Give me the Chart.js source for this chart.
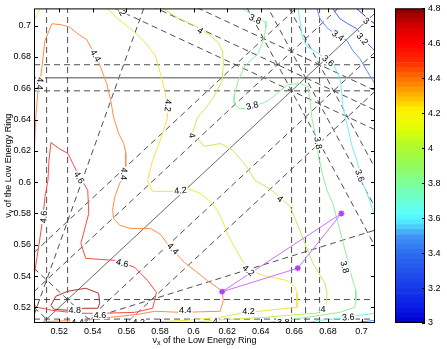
<!DOCTYPE html>
<html>
<head>
<meta charset="utf-8">
<script src="https://cdn.jsdelivr.net/npm/chart.js@4.4.0/dist/chart.umd.min.js"></script>
<style>
  html, body { margin: 0; padding: 0; background: #fff; }
  #wrap { position: relative; width: 447px; height: 349px; }
  #main { position: absolute; left: 0; top: 0; }
  #bar { position: absolute; left: 380px; top: 0; }
</style>
</head>
<body>
<div id="wrap">
  <canvas id="main" width="447" height="349"></canvas>
  <canvas id="bar" width="67" height="349"></canvas>
</div>
<script>
// axes
const xRange = [0.505, 0.708];
const yRange = [0.51, 0.711];
const xTicks = [0.52, 0.54, 0.56, 0.58, 0.60, 0.62, 0.64, 0.66, 0.68, 0.70];
const xTickLabels = ['0.52', '0.54', '0.56', '0.58', '0.6', '0.62', '0.64', '0.66', '0.68', '0.7'];
const yTicks = [0.52, 0.54, 0.56, 0.58, 0.60, 0.62, 0.64, 0.66, 0.68, 0.70];
const yTickLabels = ['0.52', '0.54', '0.56', '0.58', '0.6', '0.62', '0.64', '0.66', '0.68', '0.7'];
const cbarRange = [3, 4.8];
const cbarTicks = [3, 3.2, 3.4, 3.6, 3.8, 4, 4.2, 4.4, 4.6, 4.8];
const cbarTickLabels = ['3', '3.2', '3.4', '3.6', '3.8', '4', '4.2', '4.4', '4.6', '4.8'];

// contour lines, [nu_x, nu_y]
const c48 = [[0.5151,0.5213],[0.5180,0.5271],[0.5252,0.5303],[0.5358,0.5322],[0.5435,0.5290],[0.5441,0.5226],[0.5430,0.5194],[0.5347,0.5194],[0.5252,0.5181],[0.5169,0.5188],[0.5151,0.5213]];
const c46 = [[0.5053,0.5417],[0.5068,0.5519],[0.5086,0.5647],[0.5103,0.5775],[0.5115,0.5902],[0.5133,0.6011],[0.5139,0.6138],[0.5151,0.6253],[0.5198,0.6215],[0.5252,0.6183],[0.5281,0.6119],[0.5311,0.6055],[0.5370,0.5947],[0.5376,0.5800],[0.5329,0.5609],[0.5358,0.5513],[0.5530,0.5500],[0.5649,0.5456],[0.5726,0.5372],[0.5779,0.5296],[0.5768,0.5245],[0.5756,0.5194],[0.5649,0.5168],[0.5447,0.5162],[0.5311,0.5162],[0.5157,0.5181],[0.5074,0.5200],[0.5053,0.5213]];
const c44 = [[0.5053,0.6221],[0.5062,0.6438],[0.5074,0.6585],[0.5086,0.6649],[0.5097,0.6732],[0.5115,0.6904],[0.5157,0.7012],[0.5210,0.7006],[0.5258,0.6993],[0.5311,0.6948],[0.5364,0.6910],[0.5400,0.6840],[0.5430,0.6783],[0.5447,0.6732],[0.5483,0.6630],[0.5507,0.6521],[0.5524,0.6413],[0.5554,0.6311],[0.5584,0.6247],[0.5596,0.6189],[0.5596,0.6094],[0.5584,0.6036],[0.5560,0.5992],[0.5530,0.5902],[0.5518,0.5819],[0.5524,0.5768],[0.5560,0.5724],[0.5625,0.5704],[0.5744,0.5704],[0.5803,0.5666],[0.5851,0.5596],[0.5946,0.5487],[0.6082,0.5372],[0.6171,0.5303],[0.6177,0.5245],[0.6165,0.5200],[0.6159,0.5175],[0.5928,0.5168],[0.5768,0.5175],[0.5673,0.5156],[0.5507,0.5137],[0.5329,0.5117],[0.5151,0.5111],[0.5080,0.5100]];
const c42a = [[0.5489,0.7108],[0.5548,0.7044],[0.5625,0.6980],[0.5702,0.6904],[0.5773,0.6808],[0.5803,0.6693],[0.5833,0.6566],[0.5845,0.6476],[0.5845,0.6413],[0.5815,0.6311],[0.5785,0.6221],[0.5756,0.6138],[0.5726,0.6011],[0.5756,0.5941],[0.5886,0.5941],[0.5963,0.5960],[0.6040,0.5928],[0.6106,0.5870],[0.6141,0.5819],[0.6171,0.5755],[0.6206,0.5660],[0.6248,0.5577],[0.6289,0.5500],[0.6337,0.5436],[0.6414,0.5404],[0.6556,0.5372],[0.6604,0.5328],[0.6616,0.5290],[0.6616,0.5200],[0.6556,0.5194],[0.6277,0.5162],[0.6159,0.5137],[0.6082,0.5130],[0.5957,0.5117],[0.5744,0.5105],[0.5607,0.5100]];
const c42b = [[0.5056,0.7044],[0.5086,0.7108]];
const c40 = [[0.5821,0.7108],[0.5904,0.7051],[0.5981,0.7012],[0.6040,0.6980],[0.6100,0.6936],[0.6147,0.6891],[0.6171,0.6840],[0.6177,0.6776],[0.6171,0.6649],[0.6117,0.6540],[0.6070,0.6470],[0.6023,0.6413],[0.5993,0.6311],[0.6064,0.6228],[0.6159,0.6247],[0.6236,0.6202],[0.6319,0.6094],[0.6366,0.6011],[0.6467,0.5947],[0.6574,0.5845],[0.6616,0.5736],[0.6663,0.5609],[0.6711,0.5481],[0.6782,0.5353],[0.6794,0.5290],[0.6788,0.5200],[0.6735,0.5162],[0.6633,0.5156],[0.6437,0.5137],[0.6218,0.5124],[0.6123,0.5117],[0.6005,0.5105],[0.5951,0.5100]];
const c38 = [[0.6295,0.7108],[0.6366,0.7057],[0.6426,0.7025],[0.6431,0.6987],[0.6414,0.6904],[0.6384,0.6821],[0.6307,0.6744],[0.6266,0.6649],[0.6242,0.6553],[0.6242,0.6502],[0.6272,0.6470],[0.6319,0.6470],[0.6437,0.6515],[0.6562,0.6623],[0.6633,0.6630],[0.6681,0.6610],[0.6693,0.6521],[0.6705,0.6406],[0.6723,0.6311],[0.6746,0.6151],[0.6770,0.6042],[0.6794,0.5947],[0.6829,0.5864],[0.6871,0.5692],[0.6913,0.5519],[0.6942,0.5392],[0.6966,0.5309],[0.6966,0.5245],[0.6960,0.5200],[0.6871,0.5168],[0.6752,0.5149],[0.6556,0.5117],[0.6402,0.5100]];
const c36a = [[0.6622,0.7108],[0.6633,0.7031],[0.6645,0.6936],[0.6675,0.6866],[0.6735,0.6827],[0.6829,0.6757],[0.6871,0.6668],[0.6883,0.6566],[0.6889,0.6476],[0.6918,0.6349],[0.6942,0.6234],[0.6972,0.6138],[0.7001,0.6011],[0.7031,0.5934],[0.7078,0.5787]];
const c36b = [[0.6663,0.5100],[0.6752,0.5117],[0.6853,0.5127],[0.6990,0.5149],[0.7078,0.5162]];
const c34a = [[0.6735,0.7108],[0.6752,0.7044],[0.6794,0.6987],[0.6841,0.6948],[0.6913,0.6904],[0.6948,0.6840],[0.6990,0.6789],[0.7031,0.6712],[0.7061,0.6661],[0.7078,0.6630]];
const c34b = [[0.6948,0.5100],[0.7078,0.5117]];
const c32 = [[0.6829,0.7108],[0.6871,0.7044],[0.6918,0.7012],[0.6972,0.6980],[0.7031,0.6891],[0.7066,0.6853],[0.7078,0.6840]];
const c30 = [[0.6972,0.7108],[0.7031,0.7051],[0.7078,0.7012]];

const contourPieces = [
  [4.8, c48], [4.6, c46], [4.4, c44], [4.2, c42a], [4.2, c42b], [4.0, c40],
  [3.8, c38], [3.6, c36a], [3.6, c36b], [3.4, c34a], [3.4, c34b], [3.2, c32], [3.0, c30]
];

// inline contour labels: text, nu_x, nu_y, angle (deg)
const contourLabels = [
  ['4.4', 0.5086, 0.6630, 95], ['4.4', 0.5418, 0.6808, 60], ['4.2', 0.5848, 0.6489, 95],
  ['4.4', 0.5586, 0.6053, 95], ['4', 0.6040, 0.6968, 33], ['4', 0.5991, 0.6298, 80],
  ['3.8', 0.6366, 0.7042, 25], ['3.8', 0.6349, 0.6489, -15], ['3.4', 0.6860, 0.6936, 35],
  ['3.2', 0.7005, 0.6915, 50], ['3', 0.7029, 0.7031, 40], ['3.6', 0.6801, 0.6776, 40],
  ['3.8', 0.6742, 0.6250, 80], ['3.6', 0.6990, 0.6042, 70], ['4.4', 0.5878, 0.5575, 45],
  ['4.6', 0.5576, 0.5483, 15], ['4.6', 0.5108, 0.5777, -85], ['4.6', 0.5319, 0.6030, 60],
  ['4.2', 0.5922, 0.5947, -5], ['4.8', 0.5293, 0.5186, 0], ['4.6', 0.5443, 0.5154, 0],
  ['4.4', 0.5951, 0.5181, 0], ['4.2', 0.5674, 0.5107, 0], ['4.4', 0.5309, 0.5107, 0],
  ['4', 0.6129, 0.5111, 0], ['4.2', 0.6327, 0.5436, 40], ['4', 0.6515, 0.5894, 40],
  ['4.2', 0.6327, 0.5175, 0], ['4', 0.6771, 0.5192, 0], ['3.8', 0.6900, 0.5458, 75],
  ['3.6', 0.6920, 0.5138, -5], ['3.8', 0.6534, 0.5107, 0], ['4.2', 0.5566, 0.7102, 60]
];

// resonance lines m*nux + n*nuy = p + k*nus
const nuS = 0.025;
const resM = [2, 2, 0, 0, 1, 1, 1, 1, 1, 1, 1, 3, 3, 3, 0, 0, 0, 2, 2, 2, 1, 1, 1, 3, 1];
const resN = [0, 0, 2, 2, 1, 1, -1, -1, -1, -1, -1, 0, 0, 0, 3, 3, 3, 1, 1, 1, 2, 2, 2, -1, -3];
const resP = [1, 1, 1, 1, 1, 1, 0, 0, 0, 0, 0, 2, 2, 2, 2, 2, 2, 2, 2, 2, 2, 2, 2, 1, -1];
const resK = [1, 2, 1, 2, 1, 2, 0, 1, -1, 2, -2, 0, 1, -1, 0, 1, -1, 0, 1, -1, 0, 1, -1, 0, 0];

// working point path
const tuneX = [0.617, 0.688, 0.662, 0.617];
const tuneY = [0.530, 0.580, 0.545, 0.530];

const FONT = '"Liberation Sans", Arial, Helvetica, sans-serif';
Chart.defaults.font.family = FONT;
Chart.defaults.font.size = 9;
Chart.defaults.color = '#000';

const levelColor = {
  '3': '#3030e0', '3.2': '#4a6cff', '3.4': '#6090ff', '3.6': '#70f0f0', '3.8': '#8ef0a0',
  '4': '#c0f050', '4.2': '#f2e640', '4.4': '#ff8c4c', '4.6': '#ff4848', '4.8': '#b03030'
};

const cmapStops = [
  [3.00, 0, 0, 210], [3.10, 10, 30, 230], [3.25, 30, 70, 235], [3.40, 45, 110, 240],
  [3.50, 65, 150, 245], [3.56, 80, 220, 255], [3.62, 90, 255, 255], [3.72, 110, 255, 200],
  [3.82, 130, 255, 140], [3.92, 150, 250, 80], [4.02, 180, 250, 40], [4.12, 230, 255, 0],
  [4.22, 255, 240, 0], [4.30, 255, 180, 0], [4.40, 255, 110, 0], [4.50, 255, 40, 0],
  [4.60, 255, 0, 0], [4.70, 210, 0, 0], [4.80, 130, 0, 0]
];

function cmap(v) {
  for (let i = 1; i < cmapStops.length; i++) {
    const a = cmapStops[i - 1], b = cmapStops[i];
    if (v <= b[0]) {
      const t = (v - a[0]) / (b[0] - a[0]);
      const c = [1, 2, 3].map(j => Math.round(a[j] + t * (b[j] - a[j])));
      return `rgb(${c[0]},${c[1]},${c[2]})`;
    }
  }
  const l = cmapStops[cmapStops.length - 1];
  return `rgb(${l[1]},${l[2]},${l[3]})`;
}

function resLine(i) {
  const m = resM[i], n = resN[i], c = resP[i] + resK[i] * nuS;
  if (n === 0) return [{ x: c / m, y: yRange[0] }, { x: c / m, y: yRange[1] }];
  return [xRange[0], xRange[1]].map(x => ({ x, y: (c - m * x) / n }));
}

const datasets = [];

resM.forEach((m, i) => {
  const diag = resK[i] === 0 && m === -resN[i];
  const horiz = resK[i] === 0 && m === 0;
  datasets.push({
    data: resLine(i),
    showLine: true,
    borderColor: diag ? '#444' : horiz ? '#888' : '#3a3a3a',
    borderWidth: diag ? 0.8 : horiz ? 1.6 : 0.9,
    borderDash: diag || horiz ? [] : [6, 4],
    pointRadius: 0,
    order: 3
  });
});

contourPieces.forEach(([lev, pts]) => {
  datasets.push({
    data: pts.map(p => ({ x: p[0], y: p[1] })),
    showLine: true,
    borderColor: levelColor[String(lev)],
    borderWidth: 1,
    pointRadius: 0,
    order: 2
  });
});

datasets.push({
  data: tuneX.map((x, i) => ({ x, y: tuneY[i] })),
  showLine: true,
  borderColor: '#cc70ff',
  borderWidth: 1,
  pointStyle: 'star',
  pointRadius: [3, 3, 3, 0],
  pointBorderColor: '#b040ff',
  pointBorderWidth: 1.5,
  order: 0
});

const labelPlugin = {
  id: 'clabels',
  afterDatasetsDraw(chart) {
    const { ctx, chartArea: a, scales: { x, y } } = chart;
    ctx.save();
    ctx.beginPath();
    ctx.rect(a.left + 1, a.top + 1, a.right - a.left - 2, a.bottom - a.top - 2);
    ctx.clip();
    ctx.font = '9px ' + FONT;
    ctx.textAlign = 'center';
    ctx.textBaseline = 'middle';
    contourLabels.forEach(([t, vx, vy, ang]) => {
      const px = x.getPixelForValue(vx), py = y.getPixelForValue(vy);
      const w = ctx.measureText(t).width;
      ctx.save();
      ctx.translate(px, py);
      ctx.rotate(ang * Math.PI / 180);
      ctx.fillStyle = '#fff';
      ctx.fillRect(-w / 2 - 1, -4.5, w + 2, 9);
      ctx.fillStyle = '#000';
      ctx.fillText(t, 0, 0.5);
      ctx.restore();
    });
    ctx.restore();
  }
};

function drawNuTitle(ctx, sub, cx, cy, rot) {
  const big = '9px ' + FONT, small = '7px ' + FONT;
  const rest = ' of the Low Energy Ring';
  ctx.save();
  ctx.translate(cx, cy);
  ctx.rotate(rot);
  ctx.fillStyle = '#000';
  ctx.textBaseline = 'middle';
  ctx.textAlign = 'left';
  ctx.font = big;
  const w1 = ctx.measureText('\u03bd').width, w3 = ctx.measureText(rest).width;
  ctx.font = small;
  const w2 = ctx.measureText(sub).width;
  const x0 = -(w1 + w2 + w3) / 2;
  ctx.font = big;
  ctx.fillText('\u03bd', x0, 0);
  ctx.font = small;
  ctx.fillText(sub, x0 + w1, 2.5);
  ctx.font = big;
  ctx.fillText(rest, x0 + w1 + w2, 0);
  ctx.restore();
}

const framePlugin = {
  id: 'frame',
  afterDraw(chart) {
    const { ctx, chartArea: a, scales: { x, y } } = chart;
    ctx.save();
    ctx.strokeStyle = '#000';
    ctx.lineWidth = 1;
    ctx.beginPath();
    xTicks.forEach(v => {
      const p = Math.round(x.getPixelForValue(v)) + 0.5;
      ctx.moveTo(p, a.bottom); ctx.lineTo(p, a.bottom - 4);
      ctx.moveTo(p, a.top); ctx.lineTo(p, a.top + 4);
    });
    yTicks.forEach(v => {
      const p = Math.round(y.getPixelForValue(v)) + 0.5;
      ctx.moveTo(a.left, p); ctx.lineTo(a.left + 4, p);
      ctx.moveTo(a.right, p); ctx.lineTo(a.right - 4, p);
    });
    ctx.stroke();
    ctx.strokeRect(a.left + 0.5, a.top + 0.5, a.right - a.left - 1, a.bottom - a.top - 1);
    drawNuTitle(ctx, 'x', (a.left + a.right) / 2, 341, 0);
    drawNuTitle(ctx, 'y', 9, (a.top + a.bottom) / 2, -Math.PI / 2);
    ctx.restore();
  }
};

new Chart(document.getElementById('main'), {
  type: 'scatter',
  data: { datasets },
  options: {
    responsive: false,
    animation: false,
    events: [],
    layout: { padding: { left: 0, right: 72, top: 8, bottom: 0 } },
    plugins: { legend: { display: false }, tooltip: { enabled: false } },
    scales: {
      x: {
        type: 'linear', min: xRange[0], max: xRange[1],
        afterBuildTicks: s => { s.ticks = xTicks.map(v => ({ value: v })); },
        afterFit: s => { s.height = 26; },
        grid: { display: false, drawTicks: false },
        border: { display: false },
        ticks: { callback: (v, i) => xTickLabels[i], padding: 3, maxRotation: 0, autoSkip: false }
      },
      y: {
        type: 'linear', min: yRange[0], max: yRange[1],
        afterBuildTicks: s => { s.ticks = yTicks.map(v => ({ value: v })); },
        afterFit: s => { s.width = 34; },
        grid: { display: false, drawTicks: false },
        border: { display: false },
        ticks: { callback: (v, i) => yTickLabels[i], padding: 3, autoSkip: false }
      }
    }
  },
  plugins: [labelPlugin, framePlugin]
});

// colour bar
const nBands = 64;
const bands = [];
for (let i = 0; i < nBands; i++) {
  const lo = cbarRange[0] + (cbarRange[1] - cbarRange[0]) * i / nBands;
  const hi = cbarRange[0] + (cbarRange[1] - cbarRange[0]) * (i + 1) / nBands;
  bands.push({ lo, hi, color: cmap((lo + hi) / 2) });
}

const barFramePlugin = {
  id: 'barframe',
  afterDraw(chart) {
    const { ctx, chartArea: a, scales: { y } } = chart;
    ctx.save();
    ctx.strokeStyle = '#000';
    ctx.lineWidth = 1;
    ctx.beginPath();
    cbarTicks.forEach(v => {
      const p = Math.round(y.getPixelForValue(v)) + 0.5;
      ctx.moveTo(a.right, p); ctx.lineTo(a.right - 3, p);
    });
    ctx.stroke();
    ctx.strokeRect(a.left + 0.5, a.top + 0.5, a.right - a.left - 1, a.bottom - a.top - 1);
    ctx.restore();
  }
};

new Chart(document.getElementById('bar'), {
  type: 'bar',
  data: {
    labels: [''],
    datasets: bands.map(b => ({
      data: [[b.lo, b.hi]],
      backgroundColor: b.color,
      borderWidth: 0,
      barPercentage: 1,
      categoryPercentage: 1,
      grouped: false
    }))
  },
  options: {
    responsive: false,
    animation: false,
    events: [],
    layout: { padding: { left: 15, right: 0, top: 8, bottom: 26 } },
    plugins: { legend: { display: false }, tooltip: { enabled: false } },
    scales: {
      x: { display: false },
      y: {
        position: 'right', min: cbarRange[0], max: cbarRange[1],
        afterBuildTicks: s => { s.ticks = cbarTicks.map(v => ({ value: v })); },
        afterFit: s => { s.width = 22; },
        grid: { display: false, drawTicks: false },
        border: { display: false },
        ticks: { callback: (v, i) => cbarTickLabels[i], padding: 3, autoSkip: false }
      }
    }
  },
  plugins: [barFramePlugin]
});
</script>
</body>
</html>
